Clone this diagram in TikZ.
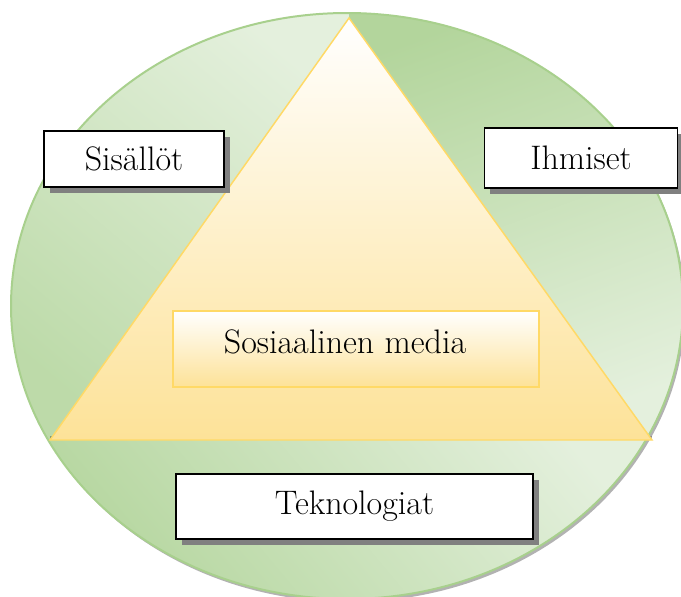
\documentclass[tikz,border=0pt]{standalone}
\usepackage{xcolor}
\usepackage{tikz}
\usetikzlibrary{shadows}

\definecolor{ovaldark}{RGB}{179,213,156}
\definecolor{ovallight}{RGB}{228,240,221}
\definecolor{ovalline}{RGB}{168,208,141}
\definecolor{pyrline}{RGB}{255,217,102}
\definecolor{pyrfill}{RGB}{253,226,152}

\begin{document}
\begin{tikzpicture}[x=0.75pt, y=-0.75pt,
	labelbox/.style={rectangle, draw=black, line width=1.1pt, fill=white, inner sep=0pt,
		drop shadow={shadow xshift=4.5pt, shadow yshift=-4.5pt, fill=black!50, opacity=1}},
	mediabox/.style={rectangle, draw=pyrline, line width=1.5pt, inner sep=0pt,
		top color=white, bottom color=pyrfill},
	boxtext/.style={font=\fontsize{25.5}{30}\selectfont}]
	\useasboundingbox (0,0) rectangle (681,596);
	% oval in the back, cut in three parts
	\coordinate (oval) at (347,306);
	\coordinate (apex) at (349,18);
	\coordinate (baseL) at (50,440);
	\coordinate (baseR) at (652,440);
	\fill[black, opacity=0.3] ([shift={(2,3)}]oval) ellipse [x radius=336, y radius=293];
	\begin{scope}
		\clip (oval) ellipse [x radius=336, y radius=293];
		\shade[top color=ovallight, bottom color=ovaldark!80!ovallight, shading angle=-40]
			(apex) -- (baseL) -- (0,440) -- (0,0) -- (349,0) -- cycle;
		\shade[top color=ovaldark, bottom color=ovallight, shading angle=20]
			(apex) -- (baseR) -- (690,440) -- (690,0) -- (349,0) -- cycle;
		\shade[top color=ovallight, bottom color=ovaldark, shading angle=-50]
			(0,440) rectangle (690,600);
	\end{scope}
	\draw[ovalline, line width=1.5pt] (oval) ellipse [x radius=336, y radius=293];
	% pyramid
	\fill[black, opacity=0.3] (baseL) -- (baseR) -- ([yshift=3]baseR) -- ([yshift=3]baseL) -- cycle;
	\path[draw=pyrline, line width=1.1pt, top color=white, bottom color=pyrfill]
		(apex) -- (baseR) -- (baseL) -- cycle;
	\node[mediabox, minimum width=274pt, minimum height=57pt] at (356,348.5)(media){};
	\node[boxtext] at (345,342)(mediatext){Sosiaalinen media};
	% the three labels
	\node[labelbox, boxtext, minimum width=135pt, minimum height=42pt] at (134,159)(sisallot){Sisällöt};
	\node[labelbox, boxtext, minimum width=145pt, minimum height=45pt] at (581,158)(ihmiset){Ihmiset};
	\node[labelbox, boxtext, minimum width=268pt, minimum height=49pt] at (354.5,506.5)(teknologiat){Teknologiat};
\end{tikzpicture}
\end{document}
